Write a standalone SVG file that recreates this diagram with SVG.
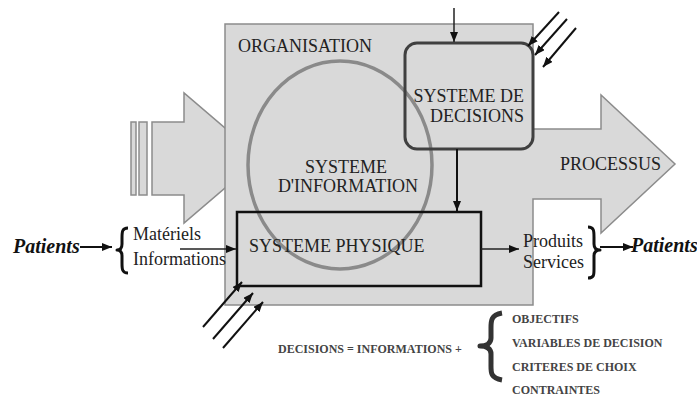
<svg xmlns="http://www.w3.org/2000/svg" width="697" height="398" viewBox="0 0 697 398">
<style>
text{font-family:"Liberation Serif","Times New Roman",serif;fill:#222}
.lbl{font-size:18px}
.pat{font-size:20px;font-weight:bold;font-style:italic;fill:#111}
.eq{font-size:12px;font-weight:bold;fill:#444}
.gray{fill:#d9d9d9;stroke:#8c8c8c;stroke-width:1.5}
.con{stroke:#111;stroke-width:2;fill:none}
.thin{stroke:#222;stroke-width:1.5;fill:none}
.brace{fill:none;stroke:#111;stroke-width:3;stroke-linejoin:round}
</style>
<defs>
<marker id="ah" viewBox="0 0 10 8" refX="10" refY="4" markerWidth="10" markerHeight="8" markerUnits="userSpaceOnUse" orient="auto">
<path d="M0,0 L10,4 L0,8 Z" fill="#111"/>
</marker>
</defs>
<rect width="697" height="398" fill="#fff"/>
<g id="input-arrow">
<rect class="gray" x="131" y="122" width="5" height="73"/>
<rect class="gray" x="139" y="122" width="8" height="73"/>
<path class="gray" d="M152,122 H184 V93 L260,158 L184,223 V195 H152 Z"/>
</g>
<g id="organisation">
<path class="gray" d="M225,24 H533 V129 H601 V95 L675,164 L601,233 V199 H533 V305 H225 Z"/>
<text class="lbl" x="238" y="52">ORGANISATION</text>
<text class="lbl" x="560" y="170">PROCESSUS</text>
</g>
<g id="systeme-information">
<ellipse cx="340" cy="165" rx="92" ry="104" fill="none" stroke="#8a8a8a" stroke-width="3.5"/>
<text class="lbl" x="346" y="173" text-anchor="middle">SYSTEME</text>
<text class="lbl" x="348" y="192" text-anchor="middle">D'INFORMATION</text>
</g>
<g id="systeme-decisions">
<rect x="405" y="43" width="128" height="106" rx="12" fill="none" stroke="#404040" stroke-width="3"/>
<text class="lbl" x="524" y="102" text-anchor="end">SYSTEME DE</text>
<text class="lbl" x="524" y="122" text-anchor="end">DECISIONS</text>
</g>
<g id="systeme-physique">
<rect x="237" y="212" width="244" height="74" fill="none" stroke="#111" stroke-width="2.5"/>
<text class="lbl" x="249" y="252">SYSTEME PHYSIQUE</text>
</g>
<g id="entrees">
<text class="pat" x="13" y="253">Patients</text>
<path class="brace" d="M128,228 C122,228 122,232 122,238 L122,244 C122,248 120,250 117,250 C120,250 122,252 122,256 L122,263 C122,269 122,273 128,273"/>
<text class="lbl" x="133" y="240">Matériels</text>
<text class="lbl" x="133" y="265">Informations</text>
</g>
<g id="sorties">
<text class="lbl" x="523" y="247">Produits</text>
<text class="lbl" x="523" y="268">Services</text>
<path class="brace" d="M588,227 C594,227 594,231 594,237 L594,244 C594,248 596,250 600,250 C596,250 594,252 594,256 L594,269 C594,275 594,278 588,278"/>
<text class="pat" x="631" y="252">Patients</text>
</g>
<g id="equation">
<text class="eq" x="278" y="353">DECISIONS = INFORMATIONS +</text>
<path d="M502,313 C490,315 491,322 491,330 L491,338 C491,343 487,346 480,346 C487,346 491,349 491,354 L491,364 C491,372 490,378 502,380" fill="none" stroke="#333" stroke-width="5" stroke-linejoin="round"/>
<text class="eq" x="512" y="323">OBJECTIFS</text>
<text class="eq" x="512" y="347">VARIABLES DE DECISION</text>
<text class="eq" x="512" y="371">CRITERES DE CHOIX</text>
<text class="eq" x="512" y="394">CONTRAINTES</text>
</g>
<g id="connectors">
<line class="thin" x1="454" y1="8" x2="454" y2="42" marker-end="url(#ah)"/>
<line class="con" x1="457" y1="149" x2="457" y2="211" marker-end="url(#ah)"/>
<line class="thin" x1="180" y1="249" x2="236" y2="249" marker-end="url(#ah)"/>
<line class="thin" x1="481" y1="249" x2="519" y2="249" marker-end="url(#ah)"/>
<line class="con" x1="80" y1="247" x2="112" y2="247" marker-end="url(#ah)"/>
<line class="con" x1="600" y1="247" x2="633" y2="247" marker-end="url(#ah)"/>
<line class="con" x1="559" y1="12" x2="528" y2="46" marker-end="url(#ah)"/>
<line class="con" x1="567" y1="19" x2="535" y2="55" marker-end="url(#ah)"/>
<line class="con" x1="576" y1="28" x2="543" y2="67" marker-end="url(#ah)"/>
<line class="con" x1="203" y1="327" x2="242" y2="282" marker-end="url(#ah)"/>
<line class="con" x1="213" y1="339" x2="253" y2="293" marker-end="url(#ah)"/>
<line class="con" x1="223" y1="348" x2="263" y2="302" marker-end="url(#ah)"/>
</g>
</svg>
